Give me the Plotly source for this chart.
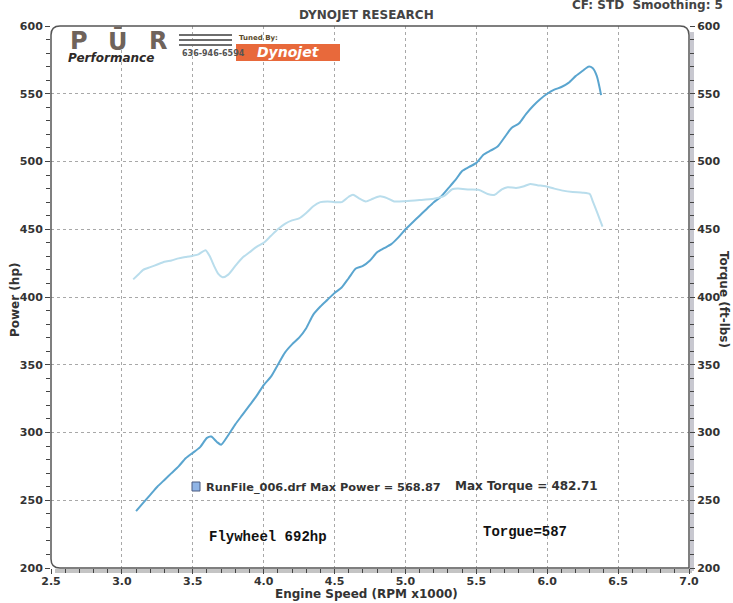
import plotly.graph_objects as go

# ---------------- data ----------------
power_rpm = [3.10, 3.15, 3.20, 3.25, 3.30, 3.35, 3.40, 3.45, 3.50, 3.55, 3.60, 3.63, 3.67, 3.70,
             3.75, 3.80, 3.85, 3.90, 3.95, 4.00, 4.05, 4.10, 4.15, 4.20, 4.25, 4.30, 4.35, 4.40,
             4.45, 4.50, 4.55, 4.60, 4.65, 4.70, 4.75, 4.80, 4.85, 4.90, 4.95, 5.00, 5.05, 5.10,
             5.15, 5.20, 5.25, 5.30, 5.35, 5.40, 5.45, 5.50, 5.55, 5.60, 5.65, 5.70, 5.75, 5.80,
             5.85, 5.90, 5.95, 6.00, 6.05, 6.10, 6.15, 6.20, 6.25, 6.29, 6.32, 6.35, 6.38]
power_hp = [242, 248, 254, 260, 265, 270, 275, 281, 285, 289, 296, 297, 293, 291,
            298, 306, 313, 320, 327, 335, 341, 350, 359, 365, 370, 377, 387, 393,
            398, 403, 407, 414, 421, 423, 427, 433, 436, 439, 444, 450, 455, 460,
            465, 470, 474, 480, 486, 493, 496, 499, 505, 508, 511, 518, 525, 528,
            535, 541, 546, 550, 553, 555, 558, 563, 567, 570, 569, 563, 549]

torque_rpm = [3.08, 3.12, 3.15, 3.20, 3.25, 3.30, 3.35, 3.40, 3.45, 3.50, 3.54, 3.59, 3.62, 3.65,
              3.68, 3.71, 3.75, 3.80, 3.85, 3.90, 3.95, 4.00, 4.05, 4.10, 4.15, 4.20, 4.25, 4.30,
              4.35, 4.40, 4.45, 4.50, 4.55, 4.60, 4.63, 4.67, 4.72, 4.77, 4.82, 4.87, 4.92, 5.00,
              5.10, 5.20, 5.27, 5.33, 5.37, 5.45, 5.52, 5.58, 5.63, 5.68, 5.72, 5.78, 5.83, 5.88,
              5.93, 5.99, 6.05, 6.11, 6.18, 6.25, 6.30, 6.32, 6.35, 6.39]
torque_ftlb = [413, 417, 420, 422, 424, 426, 427, 428.5, 429.5, 430.5, 431.5, 434.5, 430, 423,
               417, 414.5, 416.5, 423, 429, 433, 437, 440, 445, 450, 454, 456.5, 458, 462,
               467, 470, 470.5, 470, 470, 474, 475.5, 473, 470.5, 472.5, 474.3, 473, 470.5, 470.7,
               471.5, 472.5, 474.4, 479.5, 480, 479.3, 479, 476, 475.5, 479.5, 481, 480.5, 481.5, 483.4,
               482.5, 481.7, 480, 478.5, 477.5, 477, 476, 471, 463, 452]

x_ticks = [2.5, 3.0, 3.5, 4.0, 4.5, 5.0, 5.5, 6.0, 6.5, 7.0]
x_tick_labels = ["2.5", "3.0", "3.5", "4.0", "4.5", "5.0", "5.5", "6.0", "6.5", "7.0"]
y_ticks = [200, 250, 300, 350, 400, 450, 500, 550, 600]

# ---------------- layout geometry ----------------
W, H = 733, 603
L, R, T, B = 51, 44, 26, 35
PW, PH = W - L - R, H - T - B


def px(x):
    return (x - L) / PW


def py(y):
    return (H - B - y) / PH


FONT = "DejaVu Sans"
TXT = "#333333"
tickfont = dict(family=FONT, size=11, color=TXT, weight="bold")

fig = go.Figure()
fig.add_trace(go.Scatter(x=torque_rpm, y=torque_ftlb, mode="lines", yaxis="y2",
                         line=dict(color="#b9ddec", width=2, shape="spline", smoothing=0.6),
                         showlegend=False))
fig.add_trace(go.Scatter(x=power_rpm, y=power_hp, mode="lines",
                         line=dict(color="#5aa5cf", width=2, shape="spline", smoothing=0.6),
                         showlegend=False))

axis_common = dict(showline=False, zeroline=False, ticks="outside", ticklen=5,
                   tickcolor="#444", tickwidth=1, tickfont=tickfont, automargin=False)

fig.update_layout(
    template="none",
    width=W, height=H,
    margin=dict(l=L, r=R, t=T, b=B, pad=0),
    paper_bgcolor="white", plot_bgcolor="white",
    xaxis=dict(range=[2.5, 7.0], tickvals=x_ticks, ticktext=x_tick_labels,
               showgrid=True, gridcolor="#a8a8a8", griddash="dot", gridwidth=1,
               ticklabelstandoff=-2,
               minor=dict(dtick=0.1, tick0=2.5, ticks="outside", ticklen=4,
                          tickcolor="#444", showgrid=False),
               **axis_common),
    yaxis=dict(range=[200, 600], tickvals=y_ticks,
               showgrid=True, gridcolor="#a8a8a8", griddash="dot", gridwidth=1,
               minor=dict(dtick=10, tick0=200, ticks="outside", ticklen=4,
                          tickcolor="#444", showgrid=False),
               **axis_common),
    yaxis2=dict(range=[200, 600], tickvals=y_ticks, overlaying="y", side="right",
                showgrid=False,
                minor=dict(dtick=10, tick0=200, ticks="outside", ticklen=4,
                           tickcolor="#444", showgrid=False),
                **axis_common),
)

# ---------------- frame ----------------
rx, ry = 9 / PW, 9 / PH
frame = (f"M {rx},1 L {1 - rx},1 Q 1,1 1,{1 - ry} L 1,0 L {rx},0 Q 0,0 0,{ry} "
         f"L 0,{1 - ry} Q 0,1 {rx},1 Z")
shapes = [
    dict(type="line", xref="paper", yref="paper", x0=px(L + 4), x1=px(L + PW + 3),
         y0=py(H - B + 3), y1=py(H - B + 3), line=dict(color="#c4c4c4", width=4), layer="below"),
    dict(type="line", xref="paper", yref="paper", x0=px(L + PW + 3), x1=px(L + PW + 3),
         y0=py(T + 6), y1=py(H - B + 3), line=dict(color="#c8c8d0", width=4), layer="below"),
    dict(type="path", xref="paper", yref="paper", path=frame,
         line=dict(color="#555555", width=1.5), layer="above"),
    dict(type="rect", xref="paper", yref="paper", x0=px(236), x1=px(340), y0=py(61), y1=py(44),
         fillcolor="#e8693b", line=dict(width=0), layer="above"),
    dict(type="rect", xref="paper", yref="paper", x0=px(192), x1=px(200), y0=py(491), y1=py(482),
         fillcolor="#8fb4e6", line=dict(color="#4a5a80", width=1), layer="above"),
]
for yy in (35, 40, 45):
    shapes.append(dict(type="line", xref="paper", yref="paper", x0=px(179), x1=px(232),
                       y0=py(yy), y1=py(yy), line=dict(color="#6d6d6d", width=2), layer="above"))
fig.update_layout(shapes=shapes)

# ---------------- annotations ----------------
ann = []


def add(text, x, y, size=12, color=TXT, xanchor="center", yanchor="middle", angle=0,
        family=FONT, weight="bold", style="normal"):
    ann.append(dict(text=text, x=px(x), y=py(y), xref="paper", yref="paper", showarrow=False,
                    xanchor=xanchor, yanchor=yanchor, textangle=angle,
                    font=dict(family=family, size=size, color=color, weight=weight, style=style)))


add("DYNOJET RESEARCH", 366, 15, size=12, color="#444")
add("CF: STD  Smoothing: 5", 570, 5, size=12, color="#444", xanchor="left")
add("Power (hp)", 15, 300, size=12, angle=-90)
add("Torque (ft-lbs)", 724, 300, size=12, angle=90)
add("Engine Speed (RPM x1000)", 366, 594, size=12)
add("RunFile_006.drf Max Power = 568.87", 204, 487, size=11.3, xanchor="left")
add("Max Torque = 482.71", 453, 486, size=12, xanchor="left")
add("Flywheel 692hp", 207, 537, size=14, xanchor="left", family="Liberation Mono", color="#111")
add("Torgue=587", 481, 532, size=14, xanchor="left", family="Liberation Mono", color="#111")

# logo
for ch, cx in (("P", 79), ("Ū", 118), ("R", 158)):
    add(ch, cx, 41, size=24, color="#6f635b", family="DejaVu Sans")
add("Performance", 66, 58, size=12, xanchor="left", color="#2e2a28", style="italic")
add("636-946-6594", 180, 53, size=8, xanchor="left", color="#555")
add("Tuned By:", 237, 38, size=7, xanchor="left", color="#5a4a2a")
add("Dynojet", 288, 52, size=14, color="white", style="italic")

fig.update_layout(annotations=ann)

fig.write_html("out.html", config={"displayModeBar": False},
               post_script="document.body.style.margin='0px';document.body.style.padding='0px';")
